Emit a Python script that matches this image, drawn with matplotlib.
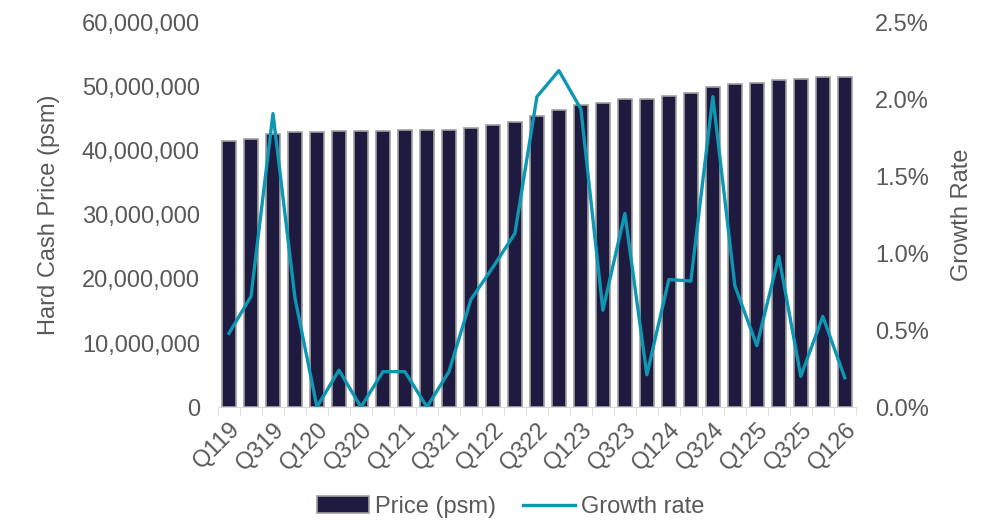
import numpy as np
import matplotlib
matplotlib.use("Agg")
import matplotlib.pyplot as plt
from matplotlib.ticker import FuncFormatter, PercentFormatter
from matplotlib.patches import Patch
from matplotlib.lines import Line2D

plt.rcParams['font.family'] = ['Liberation Sans', 'DejaVu Sans']

# Quarterly labels Q119 .. Q126
quarters = [f"Q{q}{y}" for y in range(19, 27) for q in range(1, 5)][:29]

# Hard cash price (psm)
price = [41.6, 41.9, 42.7, 43.0, 43.0, 43.1, 43.1, 43.2, 43.25, 43.25,
         43.3, 43.65, 44.0, 44.5, 45.4, 46.4, 47.2, 47.5, 48.1, 48.2,
         48.6, 49.0, 50.0, 50.4, 50.6, 51.1, 51.2, 51.5, 51.6]
price = [p * 1e6 for p in price]

# Quarter-on-quarter growth rate (%)
growth = [0.48, 0.72, 1.91, 0.71, 0.0, 0.24, 0.0, 0.23, 0.23, 0.0,
          0.23, 0.70, 0.91, 1.13, 2.02, 2.19, 1.94, 0.63, 1.26, 0.21,
          0.83, 0.82, 2.02, 0.79, 0.40, 0.98, 0.20, 0.59, 0.19]
growth = [g / 100 for g in growth]

bar_color = '#1e1a40'
line_color = '#0e97b2'
text_color = '#595959'

fig = plt.figure(figsize=(10.06, 5.2), dpi=100)
ax = fig.add_axes([0.2167, 0.2173, 0.634, 0.7385])

x = np.arange(len(quarters))
ax.bar(x, price, width=0.64, color=bar_color, edgecolor='#a0a0a0', linewidth=1.2, zorder=2)
ax.set_xlim(-0.5, len(quarters) - 0.5)
ax.set_ylim(0, 60e6)
ax.set_yticks(np.arange(0, 60e6 + 1, 10e6))
ax.yaxis.set_major_formatter(FuncFormatter(lambda v, p: f"{v:,.0f}"))

ax.set_xticks(x[::2])
ax.set_xticklabels(quarters[::2], rotation=45, ha='right', rotation_mode='anchor')
ax.set_xticks(np.arange(-0.5, len(quarters), 1), minor=True)
ax.tick_params(axis='x', which='major', length=0, pad=8, labelsize=17, labelcolor=text_color)
ax.tick_params(axis='x', which='minor', length=6, color='#d9d9d9')
ax.tick_params(axis='y', length=0, labelsize=17, labelcolor=text_color, pad=13)

for s in ['top', 'right', 'left']:
    ax.spines[s].set_visible(False)
ax.spines['bottom'].set_color('#d9d9d9')
ax.set_ylabel("Hard Cash Price (psm)", fontsize=17, color=text_color, labelpad=16)

ax2 = ax.twinx()
ax2.plot(x, growth, color=line_color, linewidth=2.4, zorder=3)
ax2.set_ylim(0, 0.025)
ax2.set_yticks(np.arange(0, 0.0251, 0.005))
ax2.yaxis.set_major_formatter(PercentFormatter(1.0, decimals=1))
ax2.tick_params(axis='y', length=0, labelsize=17, labelcolor=text_color, pad=14)
for s in ax2.spines.values():
    s.set_visible(False)
ax2.set_ylabel("Growth Rate", fontsize=17, color=text_color, labelpad=16)

handles = [Patch(facecolor=bar_color, edgecolor='#a0a0a0', linewidth=1.2),
           Line2D([0], [0], color=line_color, linewidth=2.4)]
fig.legend(handles, ["Price (psm)", "Growth rate"], loc='lower center',
           bbox_to_anchor=(0.508, -0.037), ncol=2, frameon=False, fontsize=17,
           handlelength=2.2, handletextpad=0.25, columnspacing=1.15,
           labelcolor=text_color)

fig.savefig("out.png", dpi=100)
